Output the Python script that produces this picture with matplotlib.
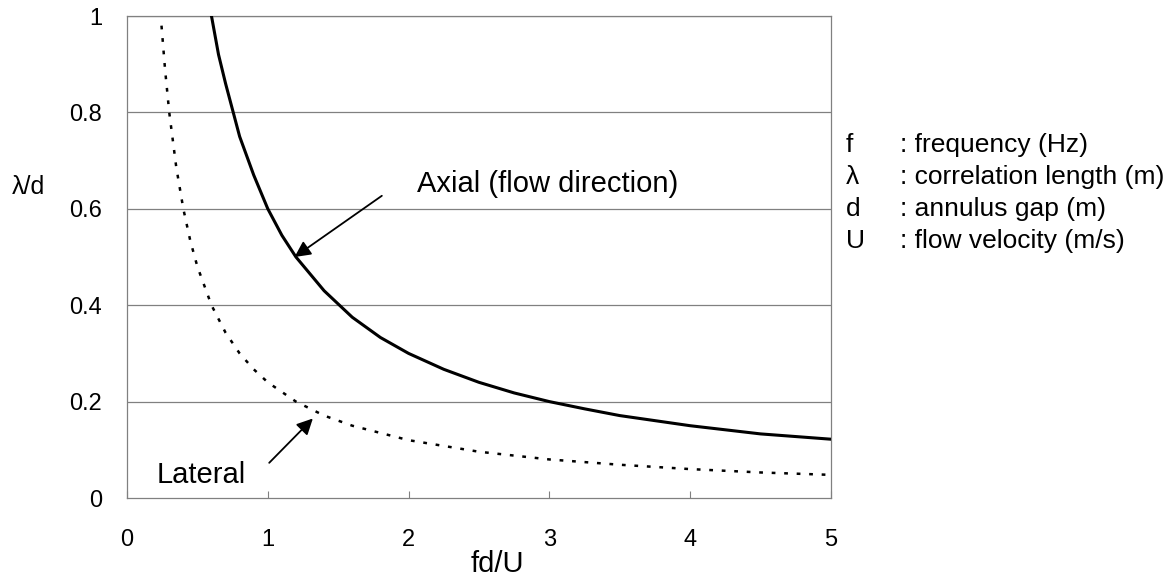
import matplotlib
matplotlib.use("Agg")
import matplotlib.pyplot as plt

plt.rcParams['font.family'] = ['Liberation Sans', 'DejaVu Sans']

# values
axial_x = [0.60, 0.65, 0.70, 0.80, 0.90, 1.00, 1.10, 1.20, 1.40, 1.60, 1.80, 2.00,
           2.25, 2.50, 2.75, 3.00, 3.25, 3.50, 4.00, 4.50, 5.00]
axial_y = [1.00, 0.92, 0.86, 0.75, 0.67, 0.60, 0.545, 0.50, 0.43, 0.375, 0.333, 0.30,
           0.267, 0.24, 0.218, 0.20, 0.185, 0.171, 0.15, 0.133, 0.122]

lateral_x = [0.245, 0.27, 0.30, 0.35, 0.40, 0.45, 0.50, 0.60, 0.70, 0.80, 0.90, 1.00,
             1.20, 1.40, 1.60, 2.00, 2.50, 3.00, 3.50, 4.00, 4.50, 5.00]
lateral_y = [0.98, 0.89, 0.80, 0.686, 0.60, 0.533, 0.48, 0.40, 0.343, 0.30, 0.267, 0.24,
             0.20, 0.171, 0.15, 0.12, 0.096, 0.08, 0.069, 0.06, 0.053, 0.048]

x_ticks = [0, 1, 2, 3, 4, 5]
y_ticks = [0, 0.2, 0.4, 0.6, 0.8, 1]
y_labels = ['0', '0.2', '0.4', '0.6', '0.8', '1']

symbols = ['f', 'λ', 'd', 'U']
meanings = [': frequency (Hz)', ': correlation length (m)', ': annulus gap (m)', ': flow velocity (m/s)']

fig = plt.figure(figsize=(11.76, 5.76), dpi=100)
ax = fig.add_axes([0.108, 0.1354, 0.5986, 0.8368])

grid_col = '#808080'
for y in y_ticks[1:]:
    ax.axhline(y, color=grid_col, lw=0.9, zorder=1)

ax.plot(axial_x, axial_y, color='black', lw=2.2, zorder=3)
ax.plot(lateral_x, lateral_y, color='black', lw=1.8, dashes=(1.5, 3.5), zorder=3)

ax.set_xlim(0, 5)
ax.set_ylim(0, 1)
ax.set_xticks(x_ticks)
ax.set_yticks(y_ticks)
ax.set_yticklabels(y_labels)
ax.tick_params(axis='x', direction='in', length=5, width=0.8, color=grid_col,
               pad=22, labelsize=17)
ax.tick_params(axis='y', length=0, pad=18, labelsize=17)
for s in ax.spines.values():
    s.set_color(grid_col)
    s.set_linewidth(0.9)

# annotations
ax.annotate('', xy=(1.19, 0.50), xytext=(1.81, 0.627),
            arrowprops=dict(arrowstyle='-|>', color='black', lw=1.3,
                            mutation_scale=24, shrinkA=0, shrinkB=0))
ax.text(2.06, 0.635, 'Axial (flow direction)', fontsize=21, va='baseline', ha='left')

ax.annotate('', xy=(1.32, 0.165), xytext=(1.01, 0.073),
            arrowprops=dict(arrowstyle='-|>', color='black', lw=1.3,
                            mutation_scale=24, shrinkA=0, shrinkB=0))
ax.text(0.213, 0.031, 'Lateral', fontsize=21, va='baseline', ha='left')

# axis titles
fig.text(0.4226, 0.007, 'fd/U', fontsize=21, ha='center', va='baseline')
fig.text(0.024, 0.675, 'λ/d', fontsize=18, ha='center', va='center')

# symbol key on the right
baselines = [152, 184, 216, 248]
for sym, txt, yb in zip(symbols, meanings, baselines):
    fig.text(846 / 1176, 1 - yb / 576, sym, fontsize=19, ha='left', va='baseline')
    fig.text(900 / 1176, 1 - yb / 576, txt, fontsize=19, ha='left', va='baseline')

fig.savefig('out.png', dpi=100)
